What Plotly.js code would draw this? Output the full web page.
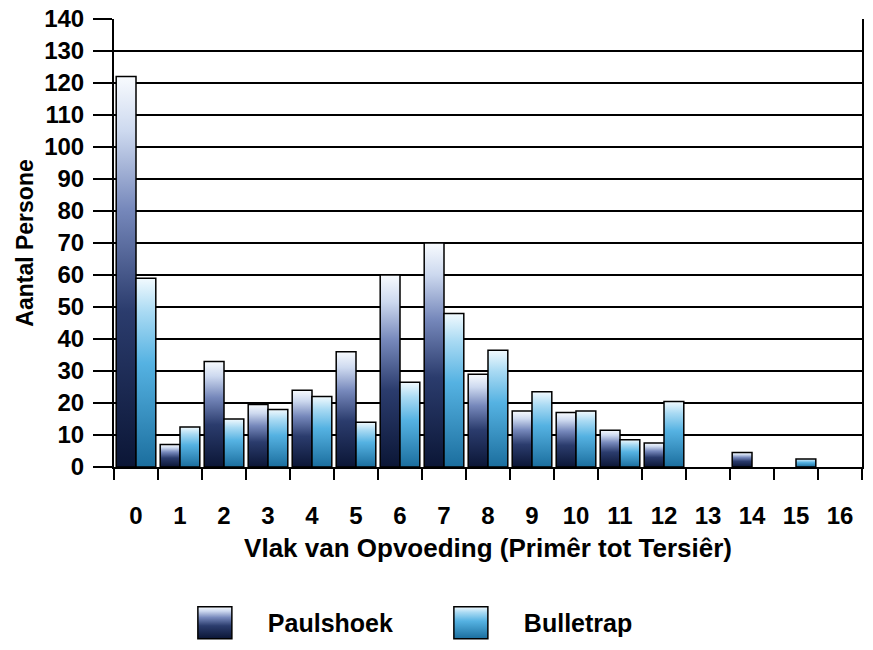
<!DOCTYPE html>
<html>
<head>
<meta charset="utf-8">
<script src="https://cdn.plot.ly/plotly-3.0.1.min.js"></script>
<style>
  html, body { margin: 0; padding: 0; background: #ffffff; }
  #chart { width: 873px; height: 650px; }
</style>
</head>
<body>
<div id="chart"></div>
<script>
// Education level categories (primary to tertiary)
const categories = ["0","1","2","3","4","5","6","7","8","9","10","11","12","13","14","15","16"];

// Number of persons per level, per community
const paulshoek = [122, 7, 33, 19.5, 24, 36, 60, 70, 29, 17.5, 17, 11.5, 7.5, 0, 4.5, 0, 0];
const bulletrap = [59, 12.5, 15, 18, 22, 14, 26.5, 48, 36.5, 23.5, 17.5, 8.5, 20.5, 0, 0, 2.5, 0];

const seriesNames = ["Paulshoek", "Bulletrap"];

const FONT = "'Liberation Sans', Arial, sans-serif";

// no outline on empty bars
function outlineWidths(vals) {
  return vals.map(function (v) { return v > 0 ? 1.5 : 0; });
}

const traces = [
  {
    type: "bar",
    name: seriesNames[0],
    x: categories,
    y: paulshoek,
    marker: { color: "#3a5288", line: { color: "#000000", width: outlineWidths(paulshoek) } },
    hoverinfo: "x+y+name"
  },
  {
    type: "bar",
    name: seriesNames[1],
    x: categories,
    y: bulletrap,
    marker: { color: "#4aa8dc", line: { color: "#000000", width: outlineWidths(bulletrap) } },
    hoverinfo: "x+y+name"
  }
];

const layout = {
  width: 873,
  height: 650,
  margin: { l: 114, r: 11, t: 19, b: 183, autoexpand: false },
  paper_bgcolor: "#ffffff",
  plot_bgcolor: "#ffffff",
  barmode: "group",
  bargap: 0.1,
  bargroupgap: 0,
  font: { family: FONT, color: "#000000" },
  showlegend: true,
  legend: {
    orientation: "h",
    x: 0.064,
    xanchor: "left",
    y: -0.348,
    yanchor: "middle",
    font: { family: FONT, size: 25, weight: "bold", color: "#000000" },
    entrywidth: 145,
    entrywidthmode: "pixels",
    itemwidth: 96,
    bgcolor: "rgba(0,0,0,0)"
  },
  xaxis: {
    type: "category",
    categoryorder: "array",
    categoryarray: categories,
    tickson: "boundaries",
    ticks: "outside",
    ticklen: 11,
    tickwidth: 2,
    tickcolor: "#000000",
    showline: true,
    linecolor: "#000000",
    linewidth: 2,
    showgrid: false,
    automargin: false,
    ticklabelstandoff: 26,
    tickfont: { family: FONT, size: 24, weight: "bold", color: "#000000" },
    title: {
      text: "Vlak van Opvoeding (Primêr tot Tersiêr)",
      font: { family: FONT, size: 26, weight: "bold", color: "#000000" },
      standoff: 11
    }
  },
  yaxis: {
    range: [0, 140],
    dtick: 10,
    tick0: 0,
    ticks: "outside",
    ticklen: 19,
    tickwidth: 2,
    tickcolor: "#000000",
    showline: true,
    mirror: true,
    linecolor: "#000000",
    linewidth: 2,
    showgrid: true,
    gridcolor: "#000000",
    gridwidth: 2,
    zeroline: false,
    automargin: false,
    ticklabelstandoff: 4,
    tickfont: { family: FONT, size: 24, weight: "bold", color: "#000000" },
    title: {
      text: "Aantal Persone",
      font: { family: FONT, size: 23, weight: "bold", color: "#000000" },
      standoff: 4
    }
  }
};

// Vertical gradients used as bar fills (light top, deep bottom)
const gradients = {
  gradPaulshoek: [
    [0, "#f8fbfe"], [0.14, "#cdd9ef"], [0.34, "#7688bb"],
    [0.6, "#2b3c6d"], [1, "#0b1636"]
  ],
  gradBulletrap: [
    [0, "#f2fafe"], [0.18, "#a9daf3"], [0.45, "#55b2e2"],
    [1, "#1b6e9e"]
  ]
};

function addGradients(gd) {
  const svgNS = "http://www.w3.org/2000/svg";
  const svg = gd.querySelector(".main-svg");
  let defs = svg.querySelector("defs");
  if (!defs) { defs = document.createElementNS(svgNS, "defs"); svg.insertBefore(defs, svg.firstChild); }
  Object.keys(gradients).forEach(function (id) {
    const lg = document.createElementNS(svgNS, "linearGradient");
    lg.setAttribute("id", id);
    lg.setAttribute("x1", "0"); lg.setAttribute("y1", "0");
    lg.setAttribute("x2", "0"); lg.setAttribute("y2", "1");
    gradients[id].forEach(function (s) {
      const st = document.createElementNS(svgNS, "stop");
      st.setAttribute("offset", s[0]);
      st.setAttribute("stop-color", s[1]);
      lg.appendChild(st);
    });
    defs.appendChild(lg);
  });
  const ids = ["gradPaulshoek", "gradBulletrap"];
  // bars
  gd.querySelectorAll(".barlayer .trace").forEach(function (tr, i) {
    tr.querySelectorAll(".point path").forEach(function (p) {
      p.style.fill = "url(#" + ids[i] + ")";
    });
  });
  // legend swatches: larger squares with the same gradient
  gd.querySelectorAll(".legend .traces").forEach(function (tr, i) {
    const p = tr.querySelector(".legendpoints path");
    if (p) {
      p.setAttribute("d", "M-17,-16H17V16H-17Z");
      p.style.fill = "url(#" + ids[i] + ")";
      p.style.stroke = "#000000";
      p.style.strokeWidth = "1.5px";
    }
  });
}

Plotly.newPlot("chart", traces, layout, { displayModeBar: false, staticPlot: true })
  .then(addGradients);
</script>
</body>
</html>
